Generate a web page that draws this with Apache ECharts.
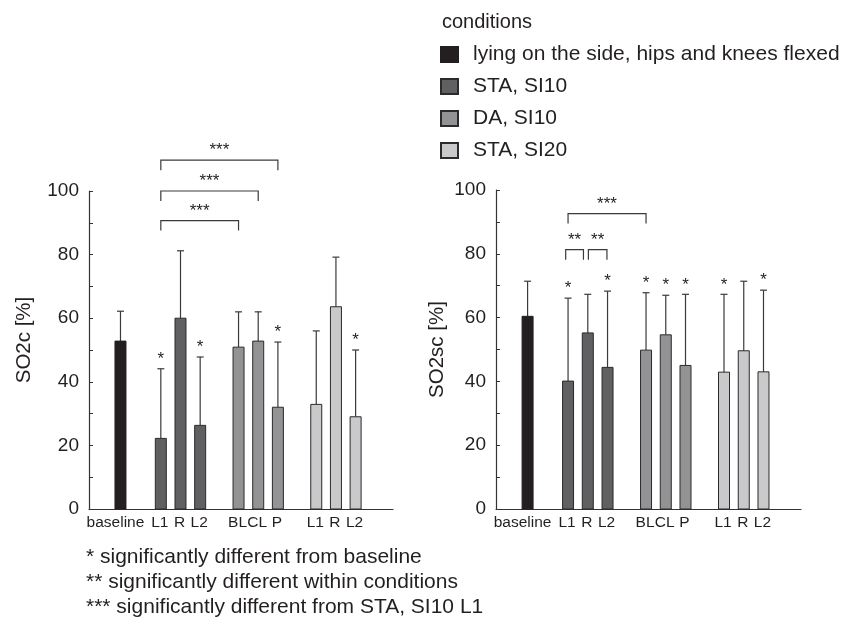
<!DOCTYPE html>
<html><head><meta charset="utf-8">
<script src="https://cdn.jsdelivr.net/npm/echarts@6/dist/echarts.min.js"></script>
<style>html,body{margin:0;padding:0;background:#fff}#c{width:846px;height:626px}</style>
</head><body><div id="c"></div>
<script>
// ---- data ----
var categories = ['baseline','L1','R','L2','BL','CL','P','L1','R','L2'];
var conditionNames = ['lying on the side, hips and knees flexed','STA, SI10','DA, SI10','STA, SI20'];
var conditionOf = [0,1,1,1,2,2,2,3,3,3];
var slotPos = [1.6, 3.65, 4.65, 5.65, 7.6, 8.6, 9.6, 11.55, 12.55, 13.55];
var so2cMean = [52.8, 22.2, 60.0, 26.3, 50.9, 52.8, 32.0, 32.9, 63.6, 29.0];
var so2cSD   = [9.4, 21.9, 21.2, 21.5, 11.1, 9.2, 20.5, 23.1, 15.6, 21.0];
var so2cSig  = [0, 1, 0, 1, 0, 0, 1, 0, 0, 1];
var so2scMean = [60.4, 40.1, 55.2, 44.4, 49.8, 54.6, 45.0, 42.9, 49.6, 43.0];
var so2scSD   = [11.0, 26.0, 12.1, 23.9, 18.0, 12.4, 22.3, 24.4, 21.8, 25.6];
var so2scSig  = [0, 1, 0, 1, 1, 1, 1, 1, 0, 1];
// brackets: [fromIdx, fromOffset, toIdx, toOffset, yLevel, label]
var so2cBrackets = [[1,0,6,0,109.7,'***'],[1,0,5,0,100,'***'],[1,0,4,0,90.7,'***']];
var so2scBrackets = [[1,0,4,0,92.6,'***'],[1,-0.12,2,-0.22,81.3,'**'],[2,0.03,3,-0.03,81.3,'**']];
var yTicks = [0,20,40,60,80,100];
var footnotes = ['* significantly different from baseline','** significantly different within conditions','*** significantly different from STA, SI10 L1'];

var colors = ['#231f20','#606062','#939395','#c9c9cb'];
var txt = '#231f20';
var FONT = '"Liberation Sans", Arial, Helvetica, sans-serif';

function barRender(params, api) {
  var x = api.value(0), m = api.value(1), sd = api.value(2), sig = api.value(3), ci = api.value(4);
  var top = api.coord([x, m]), base = api.coord([x, 0]), et = api.coord([x, m + sd]);
  var w = 11, cx = top[0];
  var cond = conditionOf[ci];
  var children = [
    {type:'line', shape:{x1:cx, y1:top[1], x2:cx, y2:et[1]}, style:{stroke:'#3a3a3a', lineWidth:1.2}},
    {type:'line', shape:{x1:cx-3.5, y1:et[1], x2:cx+3.5, y2:et[1]}, style:{stroke:'#3a3a3a', lineWidth:1.2}},
    {type:'rect', shape:{x:cx-w/2, y:top[1], width:w, height:base[1]-top[1]},
      style:{fill:colors[cond], stroke: cond===0 ? colors[0] : '#2b2b2b', lineWidth:1}},
    {type:'text', x:cx - (ci === 0 ? 5 : 1), y:base[1]+6, style:{text:categories[ci], fill:txt, font:'15.5px ' + FONT, align:'center', verticalAlign:'top'}}
  ];
  if (sig) {
    children.push({type:'text', x:cx, y:et[1]-1, style:{text:'*', fill:txt, font:'17px ' + FONT, align:'center', verticalAlign:'bottom'}});
  }
  return {type:'group', children:children};
}

function bracketRender(params, api) {
  var x1 = api.value(0), x2 = api.value(1), y = api.value(2);
  var p1 = api.coord([x1, y]), p2 = api.coord([x2, y]);
  var leg = 10;
  var lab = params.context.labels[params.dataIndex];
  return {type:'group', children:[
    {type:'polyline', shape:{points:[[p1[0], p1[1]+leg],[p1[0], p1[1]],[p2[0], p2[1]],[p2[0], p2[1]+leg]]}, style:{stroke:'#3a3a3a', lineWidth:1.2, fill:null}},
    {type:'text', x:(p1[0]+p2[0])/2, y:p1[1]-1, style:{text:lab, fill:txt, font:'17px ' + FONT, align:'center', verticalAlign:'bottom'}}
  ]};
}

function makeSeries(gridIdx, means, sds, sigs, brackets) {
  var out = [];
  for (var c = 0; c < 4; c++) {
    var data = [];
    for (var i = 0; i < categories.length; i++) {
      if (conditionOf[i] === c) data.push([slotPos[i], means[i], sds[i], sigs[i], i]);
    }
    out.push({
      type:'custom', name:conditionNames[c], xAxisIndex:gridIdx, yAxisIndex:gridIdx,
      renderItem:barRender, data:data, clip:false,
      itemStyle:{color:colors[c], borderColor: c===0 ? colors[0] : '#2b2b2b', borderWidth:1},
      encode:{x:0, y:[1,2]}, silent:true
    });
  }
  var bdata = brackets.map(function (b) { return [slotPos[b[0]] + b[1], slotPos[b[2]] + b[3], b[4]]; });
  var labels = brackets.map(function (b) { return b[5]; });
  out.push({
    type:'custom', name:'brackets' + gridIdx, xAxisIndex:gridIdx, yAxisIndex:gridIdx, clip:false, silent:true,
    renderItem:function (params, api) { params.context.labels = labels; return bracketRender(params, api); },
    data:bdata, encode:{x:[0,1], y:2}
  });
  return out;
}

function yAxis(gridIdx, name, gap, pad) {
  return {
    type:'value', gridIndex:gridIdx, min:0, max:100, interval:20,
    name:name, nameLocation:'middle', nameGap:gap, nameRotate:90,
    nameTextStyle:{fontSize:20.5, color:txt, fontFamily:FONT, padding:pad},
    axisLine:{show:true, lineStyle:{color:'#333', width:1.2}},
    axisTick:{show:true, inside:true, length:4, lineStyle:{color:'#333'}},
    minorTick:{show:true, splitNumber:2, length:4, lineStyle:{color:'#333'}},
    axisLabel:{fontSize:19, color:txt, fontFamily:FONT, margin:10},
    splitLine:{show:false}
  };
}
function xAxis(gridIdx) {
  return {
    type:'value', gridIndex:gridIdx, min:0, max:15.45,
    axisLine:{show:true, onZero:false, lineStyle:{color:'#333', width:1.2}},
    axisTick:{show:false}, axisLabel:{show:false}, splitLine:{show:false}
  };
}

var chart = echarts.init(document.getElementById('c'), null, {renderer:'canvas'});
var series = [].concat(
  makeSeries(0, so2cMean, so2cSD, so2cSig, so2cBrackets),
  makeSeries(1, so2scMean, so2scSD, so2scSig, so2scBrackets)
);
chart.setOption({
  animation:false,
  textStyle:{fontFamily:FONT},
  grid:[
    {left:89, right:453, top:191, bottom:117},
    {left:496, right:45, top:190, bottom:117}
  ],
  xAxis:[xAxis(0), xAxis(1)],
  yAxis:[yAxis(0,'SO2c [%]',54,[0,0,0,20]), yAxis(1,'SO2sc [%]',48,0)],
  legend:{
    data:conditionNames, orient:'vertical', left:440, top:44, padding:0,
    itemWidth:17, itemHeight:15, itemGap:11, icon:'rect',
    textStyle:{fontSize:21, color:txt, fontFamily:FONT, padding:[0,0,0,10]},
    selectedMode:false
  },
  graphic:[
    {type:'text', left:442, top:12, style:{text:'conditions', fill:txt, font:'20px ' + FONT}},
    {type:'text', left:86, top:547, style:{text:footnotes[0], fill:txt, font:'21px ' + FONT}},
    {type:'text', left:86, top:572, style:{text:footnotes[1], fill:txt, font:'21px ' + FONT}},
    {type:'text', left:86, top:597, style:{text:footnotes[2], fill:txt, font:'21px ' + FONT}}
  ],
  series:series
});
</script></body></html>
